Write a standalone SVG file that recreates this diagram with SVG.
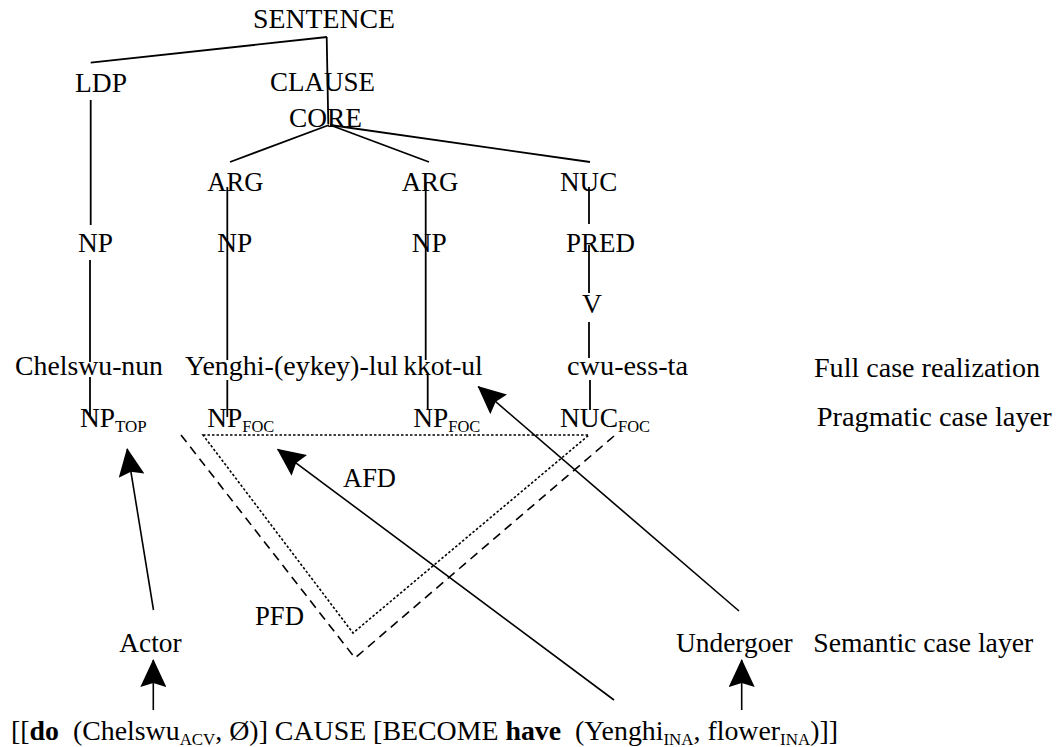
<svg xmlns="http://www.w3.org/2000/svg" width="1057" height="747" viewBox="0 0 1057 747">
<defs>
<style>
text{font-family:"Liberation Serif","Times New Roman",serif;font-size:28px;fill:#000}
.sub{font-size:17px}
.b{font-weight:bold}
.tree{stroke:#000;stroke-width:1.8;fill:none}
.arr{stroke:#000;stroke-width:1.6;fill:none;marker-end:url(#ah)}
.dot{stroke:#000;stroke-width:1.6;fill:none;stroke-dasharray:2.5 2}
.dash{stroke:#000;stroke-width:1.6;fill:none;stroke-dasharray:9 6}
</style>
<marker id="ah" markerUnits="userSpaceOnUse" markerWidth="28" markerHeight="26" viewBox="0 0 28 26" refX="27" refY="13" orient="auto"><path d="M0,0 L28,13 L0,26 L4,13 z" fill="#000"/></marker>
</defs>
<rect width="1057" height="747" fill="#fff"/>
<g id="connectors">
<path class="tree" d="M327,37 L90.7,62.7"/>
<path class="tree" d="M326.7,37 L328.3,124"/>
<path class="tree" d="M329,125 L230,162"/>
<path class="tree" d="M330,125 L429,162"/>
<path class="tree" d="M330,125 L590,162"/>
<path class="tree" d="M90.7,100 L90.7,225"/>
<path class="tree" d="M90,260 L90,362"/>
<path class="tree" d="M90,377 L90,417"/>
<path class="tree" d="M227.3,187 L227.3,360"/>
<path class="tree" d="M227.3,380 L227.3,417"/>
<path class="tree" d="M425.7,182 L425.7,360"/>
<path class="tree" d="M427.7,375 L427.7,410"/>
<path class="tree" d="M589,187 L589,224"/>
<path class="tree" d="M589,245 L589,293"/>
<path class="tree" d="M589,322 L589,358"/>
<path class="tree" d="M590,380 L590,410"/>
<path class="dot" d="M203,435 L589,435 L353,633 Z"/>
<path class="dash" d="M181,435 L355,658 L614,436"/>
<path class="arr" d="M153.5,610 L127.2,449"/>
<path class="arr" d="M614,700 L277.7,449.3"/>
<path class="arr" d="M739,611 L478.3,386.7"/>
<path class="arr" d="M153.3,710 L153.3,660"/>
<path class="arr" d="M741.7,710 L741.7,660"/>
</g>
<g id="n-sentence"><text x="253" y="28.3" textLength="142" lengthAdjust="spacingAndGlyphs">SENTENCE</text></g>
<g id="n-ldp"><text x="75" y="91.7" textLength="52" lengthAdjust="spacingAndGlyphs">LDP</text></g>
<g id="n-clause"><text x="270" y="90.7" textLength="105" lengthAdjust="spacingAndGlyphs">CLAUSE</text></g>
<g id="n-core"><text x="289" y="126.5" textLength="73" lengthAdjust="spacingAndGlyphs">CORE</text></g>
<g id="n-arg1"><text x="207.3" y="191.2" textLength="56" lengthAdjust="spacingAndGlyphs">ARG</text></g>
<g id="n-arg2"><text x="401.7" y="191.2" textLength="56.6" lengthAdjust="spacingAndGlyphs">ARG</text></g>
<g id="n-nuc"><text x="560" y="191.2" textLength="57.3" lengthAdjust="spacingAndGlyphs">NUC</text></g>
<g id="n-np1"><text x="78" y="251.7" textLength="35" lengthAdjust="spacingAndGlyphs">NP</text></g>
<g id="n-np2"><text x="217.3" y="251.7" textLength="35" lengthAdjust="spacingAndGlyphs">NP</text></g>
<g id="n-np3"><text x="411.7" y="251.7" textLength="35" lengthAdjust="spacingAndGlyphs">NP</text></g>
<g id="n-pred"><text x="566" y="251.7" textLength="69" lengthAdjust="spacingAndGlyphs">PRED</text></g>
<g id="n-v"><text x="582" y="313.3" textLength="20" lengthAdjust="spacingAndGlyphs">V</text></g>
<g id="n-chelswu"><text x="15" y="375" textLength="148" lengthAdjust="spacingAndGlyphs">Chelswu-nun</text></g>
<g id="n-yenghi"><text x="185" y="375" textLength="213.3" lengthAdjust="spacingAndGlyphs">Yenghi-(eykey)-lul</text></g>
<g id="n-kkot"><text x="403.3" y="375" textLength="79.4" lengthAdjust="spacingAndGlyphs">kkot-ul</text></g>
<g id="n-cwu"><text x="567" y="375" textLength="121" lengthAdjust="spacingAndGlyphs">cwu-ess-ta</text></g>
<g id="n-full"><text x="814" y="376.5" textLength="226" lengthAdjust="spacingAndGlyphs">Full case realization</text></g>
<g id="n-nptop"><text y="426.7"><tspan x="80" textLength="35" lengthAdjust="spacingAndGlyphs">NP</tspan><tspan class="sub" x="115" dy="5" textLength="31.7" lengthAdjust="spacingAndGlyphs">TOP</tspan></text></g>
<g id="n-npfoc1"><text y="426.7"><tspan x="207.3" textLength="35" lengthAdjust="spacingAndGlyphs">NP</tspan><tspan class="sub" x="242.3" dy="5" textLength="32" lengthAdjust="spacingAndGlyphs">FOC</tspan></text></g>
<g id="n-npfoc2"><text y="426.7"><tspan x="413.3" textLength="35" lengthAdjust="spacingAndGlyphs">NP</tspan><tspan class="sub" x="448.3" dy="5" textLength="32" lengthAdjust="spacingAndGlyphs">FOC</tspan></text></g>
<g id="n-nucfoc"><text y="426.7"><tspan x="560" textLength="58" lengthAdjust="spacingAndGlyphs">NUC</tspan><tspan class="sub" x="618" dy="5" textLength="32" lengthAdjust="spacingAndGlyphs">FOC</tspan></text></g>
<g id="n-pragmatic"><text x="816.7" y="426" textLength="235" lengthAdjust="spacingAndGlyphs">Pragmatic case layer</text></g>
<g id="n-afd"><text x="343" y="486.7" textLength="53" lengthAdjust="spacingAndGlyphs">AFD</text></g>
<g id="n-pfd"><text x="255" y="625" textLength="49" lengthAdjust="spacingAndGlyphs">PFD</text></g>
<g id="n-actor"><text x="119.3" y="651.7" textLength="62.4" lengthAdjust="spacingAndGlyphs">Actor</text></g>
<g id="n-undergoer"><text x="676" y="651.7" textLength="116.7" lengthAdjust="spacingAndGlyphs">Undergoer</text></g>
<g id="n-semantic"><text x="813.3" y="651.7" textLength="220" lengthAdjust="spacingAndGlyphs">Semantic case layer</text></g>
<g id="n-formula"><text x="11" y="740" textLength="827" lengthAdjust="spacingAndGlyphs">[[<tspan class="b">do</tspan>&#160; (Chelswu<tspan class="sub" dy="5">ACV</tspan><tspan dy="-5">, Ø)] CAUSE [BECOME </tspan><tspan class="b">have</tspan>&#160; (Yenghi<tspan class="sub" dy="5">INA</tspan><tspan dy="-5">, flower</tspan><tspan class="sub" dy="5">INA</tspan><tspan dy="-5">)]]</tspan></text></g>
</svg>
